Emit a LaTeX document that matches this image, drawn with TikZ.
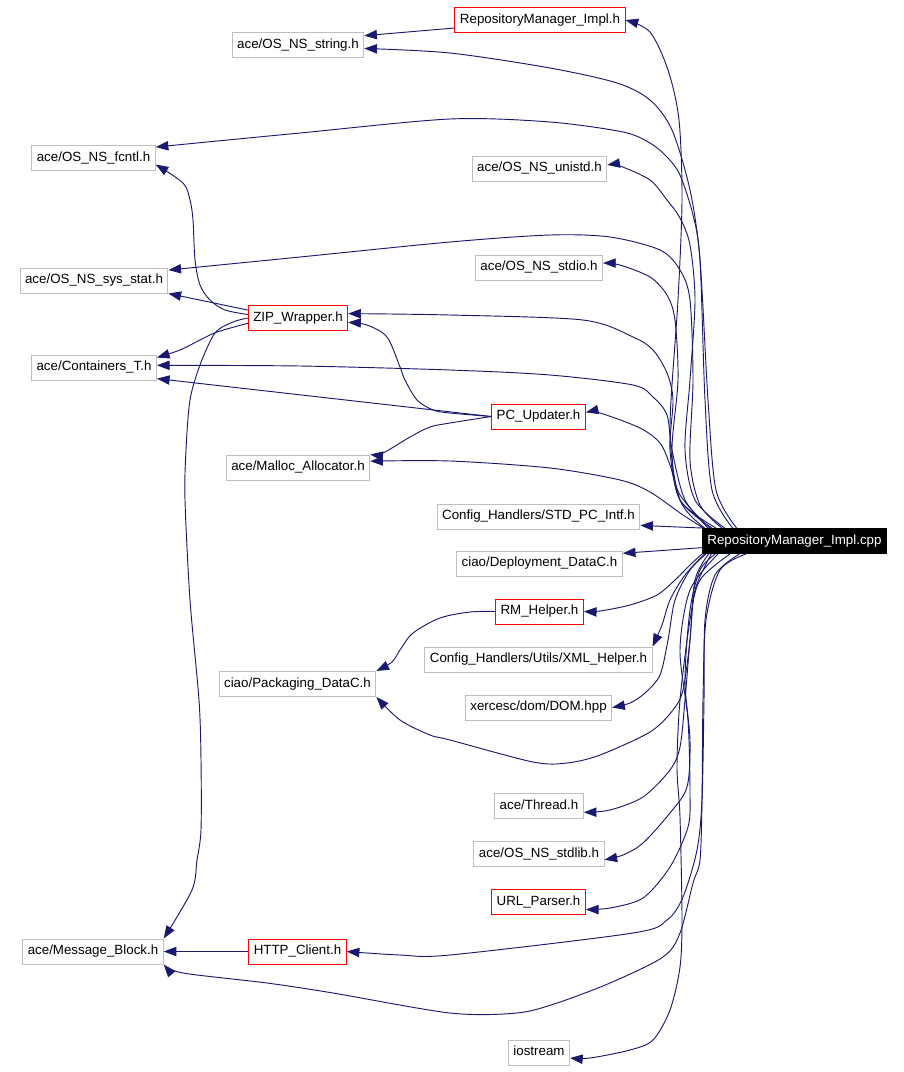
\documentclass[tikz,border=0pt]{standalone}
\usepackage{fontspec}
\setmainfont{Liberation Sans}
\usetikzlibrary{arrows.meta}
\definecolor{edgeblue}{RGB}{25,25,112}
\definecolor{boxgray}{RGB}{191,191,191}
\begin{document}
\begin{tikzpicture}[x=0.75pt, y=0.75pt, line width=0.7pt,
  >={Triangle[length=9.5pt,width=7pt]},
  file/.style={draw=boxgray, line width=0.75pt, inner xsep=3.75pt, inner ysep=0pt,
    minimum height=18.75pt, text height=7.3pt, text depth=2.2pt, font=\fontsize{10}{12}\selectfont},
  hot/.style={file, draw=red},
  main/.style={file, draw=black, fill=black, text=white},
  dep/.style={->, draw=edgeblue}]
  \useasboundingbox (0,0) rectangle (904,-1072);

  \node[hot]  (rmih)     at (540,-20)    {RepositoryManager\_Impl.h};
  \node[file] (nsstring) at (298,-45)    {ace/OS\_NS\_string.h};
  \node[file] (fcntl)    at (93.5,-158)  {ace/OS\_NS\_fcntl.h};
  \node[file] (unistd)   at (539.5,-168.5) {ace/OS\_NS\_unistd.h};
  \node[file] (sysstat)  at (94,-280.5)  {ace/OS\_NS\_sys\_stat.h};
  \node[file] (stdio)    at (539,-267.5) {ace/OS\_NS\_stdio.h};
  \node[hot]  (zip)      at (298,-318)   {ZIP\_Wrapper.h};
  \node[file] (cont)     at (94,-367.5)  {ace/Containers\_T.h};
  \node[hot]  (pcupd)    at (538.5,-416.5) {PC\_Updater.h};
  \node[file] (malloc)   at (298,-467.5) {ace/Malloc\_Allocator.h};
  \node[file] (stdpc)    at (538.5,-516.5) {Config\_Handlers/STD\_PC\_Intf.h};
  \node[main] (rmi)      at (794.5,-541) {RepositoryManager\_Impl.cpp};
  \node[file] (deploy)   at (539.5,-563.5) {ciao/Deployment\_DataC.h};
  \node[hot]  (rmhelp)   at (539.5,-611.5) {RM\_Helper.h};
  \node[file] (xmlhelp)  at (538.5,-659.5) {Config\_Handlers/Utils/XML\_Helper.h};
  \node[file] (pack)     at (297.5,-684) {ciao/Packaging\_DataC.h};
  \node[file] (dom)      at (538.5,-707.5) {xercesc/dom/DOM.hpp};
  \node[file] (thread)   at (539,-806)   {ace/Thread.h};
  \node[file] (stdlib)   at (539,-854)   {ace/OS\_NS\_stdlib.h};
  \node[hot]  (urlp)     at (538.5,-902) {URL\_Parser.h};
  \node[file] (msgblk)   at (93,-951.5)  {ace/Message\_Block.h};
  \node[hot]  (http)     at (297.5,-951.5) {HTTP\_Client.h};
  \node[file] (iostr)    at (539,-1052.5) {iostream};

  \draw[dep] plot[smooth, tension=0.5] coordinates {([xshift=2pt]rmi.north west) (680,-500) (670,-430) (678,-300) (682,-200) (679,-120) (668,-70) (650,-32) (rmih.east)};
  \draw[dep] plot[smooth, tension=0.5] coordinates {([xshift=26pt]rmi.north west) (716,-490) (708,-400) (700,-260) (690,-190) (672,-130) (650,-100) (617,-83) (550,-68) (450,-53) (nsstring.-3)};
  \draw[dep] plot[smooth, tension=0.5] coordinates {([xshift=23pt]rmi.north west) (712,-490) (705,-400) (700,-260) (693,-215) (680,-175) (667,-157) (650,-143) (623,-132) (550,-122) (450,-119) (300,-133) (fcntl.10)};
  \draw[dep] plot[smooth, tension=0.5] coordinates {([xshift=17pt]rmi.north west) (695,-500) (685,-450) (690,-380) (695,-300) (690,-245) (680,-218) (667,-200) (650,-180) (620,-166) (unistd.3)};
  \draw[dep] plot[smooth, tension=0.5] coordinates {([xshift=15pt]rmi.north west) (700,-505) (690,-460) (693,-380) (690,-300) (680,-270) (660,-250) (610,-237) (550,-235) (450,-242) (300,-257) (sysstat.8)};
  \draw[dep] plot[smooth, tension=0.5] coordinates {([xshift=10.5pt]rmi.north west) (680,-500) (672,-450) (678,-380) (675,-320) (667,-295) (650,-277) (620,-265) (stdio.4)};
  \draw[dep] plot[smooth, tension=0.5] coordinates {([xshift=7.5pt]rmi.north west) (680,-500) (670,-450) (673,-400) (667,-373) (653,-350) (633,-337) (583,-320) (450,-315) (zip.5)};
  \draw[dep] plot[smooth, tension=0.5] coordinates {([xshift=6pt]rmi.north west) (685,-500) (672,-450) (667,-415) (653,-397) (633,-385) (550,-375) (450,-370) (300,-366) (cont.2)};
  \draw[dep] plot[smooth, tension=0.5] coordinates {([xshift=4.5pt]rmi.north west) (680,-495) (670,-465) (660,-443) (640,-428) (600,-413) (pcupd.5)};
  \draw[dep] plot[smooth, tension=0.5] coordinates {([xshift=1pt]rmi.north west) (683,-515) (650,-492) (620,-480) (550,-468) (450,-461) (malloc.5)};
  \draw[dep] (rmi.north west) -- (stdpc.-5);
  \draw[dep] ([yshift=-5pt]rmi.west) -- (deploy.7);
  \draw[dep] plot[smooth, tension=0.5] coordinates {(rmi.south west) (690,-565) (675,-580) (657,-595) (630,-605) (600,-611) (rmhelp.east)};
  \draw[dep] plot[smooth, tension=0.5] coordinates {([xshift=2pt]rmi.south west) (685,-575) (670,-600) (662,-625) (xmlhelp.north east)};
  \draw[dep] plot[smooth, tension=0.5] coordinates {([xshift=3pt]rmi.south west) (690,-570) (675,-600) (668,-640) (660,-675) (645,-693) (630,-703) (dom.east)};
  \draw[dep] plot[smooth, tension=0.5] coordinates {([xshift=5pt]rmi.south west) (695,-580) (690,-640) (683,-690) (673,-710) (650,-732) (600,-755) (567,-763) (533,-762) (450,-740) (430,-735) (400,-720) (pack.south east)};
  \draw[dep] plot[smooth, tension=0.5] coordinates {([xshift=7pt]rmi.south west) (695,-590) (690,-640) (685,-700) (680,-747) (670,-770) (643,-797) (610,-810) (thread.-8)};
  \draw[dep] plot[smooth, tension=0.5] coordinates {([xshift=10pt]rmi.south west) (700,-570) (690,-610) (685,-680) (690,-740) (687,-787) (670,-813) (643,-843) (623,-855) (stdlib.-5)};
  \draw[dep] plot[smooth, tension=0.5] coordinates {([xshift=12pt]rmi.south west) (690,-590) (680,-650) (688,-720) (690,-793) (688,-827) (670,-867) (643,-898) (610,-908) (urlp.-9)};
  \draw[dep] plot[smooth, tension=0.5] coordinates {([xshift=28pt]rmi.south west) (715,-575) (705,-620) (704,-700) (702,-800) (697,-850) (683,-897) (667,-920) (633,-933) (450,-955) (400,-955) (http.east)};
  \draw[dep] plot[smooth, tension=0.5] coordinates {([xshift=33pt]rmi.south west) (720,-570) (706,-620) (703,-700) (702,-800) (700,-860) (693,-883) (680,-933) (663,-957) (610,-983) (557,-1003) (517,-1013) (450,-1013) (333,-993) (267,-983) (183,-973) (msgblk.south east)};
  \draw[dep] plot[smooth, tension=0.5] coordinates {([xshift=21pt]rmi.south west) (700,-580) (690,-620) (680,-700) (677,-767) (680,-817) (682,-917) (680,-967) (670,-1010) (653,-1040) (630,-1050) (590,-1058) (iostr.-10)};

  \draw[dep] ([yshift=-6pt]rmih.west) -- (nsstring.8);
  \draw[dep] plot[smooth, tension=0.5] coordinates {(zip.176) (225,-310) (210,-300) (200,-285) (195,-260) (193,-220) (190,-200) (183,-183) (fcntl.-6)};
  \draw[dep] (zip.171) -- (sysstat.south east);
  \draw[dep] plot[smooth, tension=0.5] coordinates {(zip.186) (217,-332) (200,-340) (180,-350) (cont.9)};
  \draw[dep] plot[smooth, tension=0.5] coordinates {(zip.180) (233,-322) (215,-333) (200,-365) (190,-400) (186,-450) (185,-500) (190,-600) (199,-700) (201,-760) (201,-830) (197,-860) (192,-890) (msgblk.north east)};
  \draw[dep] (http) -- (msgblk);
  \draw[dep] plot[smooth, tension=0.5] coordinates {(pcupd.west) (450,-413) (433,-410) (417,-400) (405,-380) (400,-367) (387,-337) (367,-325) (zip.-5)};
  \draw[dep] (pcupd.west) -- (cont.-10);
  \draw[dep] plot[smooth, tension=0.5] coordinates {(pcupd.west) (450,-423) (430,-427) (410,-437) (383,-453) (malloc.north east)};
  \draw[dep] plot[smooth, tension=0.5] coordinates {(rmhelp.west) (470,-612) (440,-618) (413,-633) (400,-650) (392,-662) (pack.north east)};
\end{tikzpicture}
\end{document}
